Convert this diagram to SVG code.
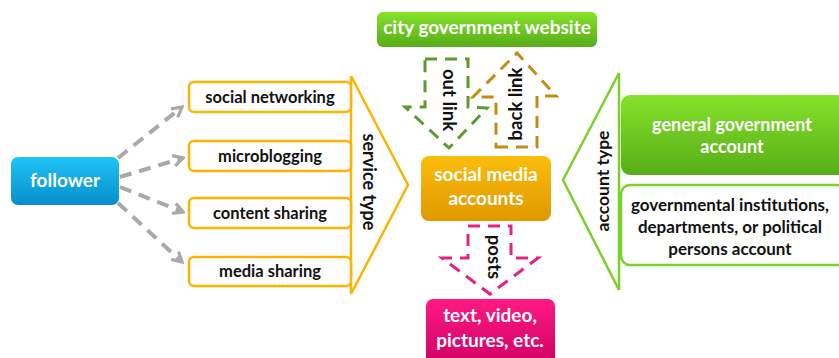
<svg xmlns="http://www.w3.org/2000/svg" width="839" height="358" viewBox="0 0 839 358">
<defs>
<linearGradient id="gBlue" x1="0" y1="0" x2="0" y2="1"><stop offset="0" stop-color="#20c4f6"/><stop offset="1" stop-color="#068ecb"/></linearGradient>
<linearGradient id="gGreen" x1="0" y1="0" x2="0" y2="1"><stop offset="0" stop-color="#86e22b"/><stop offset="1" stop-color="#56ad17"/></linearGradient>
<linearGradient id="gOrange" x1="0" y1="0" x2="0" y2="1"><stop offset="0" stop-color="#fbbe0c"/><stop offset="1" stop-color="#e09800"/></linearGradient>
<linearGradient id="gPink" x1="0" y1="0" x2="0" y2="1"><stop offset="0" stop-color="#ff1a82"/><stop offset="1" stop-color="#d00065"/></linearGradient>
<marker id="ah" viewBox="0 0 12 12" refX="10" refY="6" markerWidth="13" markerHeight="13" markerUnits="userSpaceOnUse" orient="auto">
<path d="M1,1 L10,6 L1,11" fill="none" stroke="#a9a9a9" stroke-width="3"/>
</marker>
</defs>
<style>
text{font-family:Lato,"Open Sans","Liberation Sans",sans-serif;font-weight:bold;text-anchor:middle}
.w{fill:#ffffff}
.k{fill:#111111}
.ob{fill:#ffffff;stroke:#fbb500;stroke-width:2.5}
.gb{fill:#ffffff;stroke:#7ad12a;stroke-width:2.5}
.gray{fill:none;stroke:#a9a9a9;stroke-width:4;stroke-dasharray:12 8}
.dash{stroke-width:3;stroke-dasharray:12 8;fill:none;stroke-linejoin:miter}
</style>

<g id="connectors">
<line class="gray" x1="118" y1="158" x2="182" y2="107" marker-end="url(#ah)"/>
<line class="gray" x1="120" y1="177" x2="183" y2="158" marker-end="url(#ah)"/>
<line class="gray" x1="120" y1="187" x2="183" y2="212" marker-end="url(#ah)"/>
<line class="gray" x1="118" y1="203" x2="182" y2="262" marker-end="url(#ah)"/>
<polyline id="service-chevron" points="351,76 408,185 351,294" fill="none" stroke="#fbb500" stroke-width="2.5"/>
<line x1="351" y1="76" x2="351" y2="294" stroke="#fbb500" stroke-width="2.5"/>
<polyline id="account-chevron" points="619,73 563,180 619,290" fill="none" stroke="#7ad12a" stroke-width="2.5"/>
<line x1="619" y1="73" x2="619" y2="290" stroke="#7ad12a" stroke-width="2.5"/>
<polygon id="outlink-arrow" class="dash" stroke="#5c9a2c" points="425,59 468,59 468,107 487,108 449,148 405,107 425,107"/>
<polygon id="backlink-arrow" class="dash" stroke="#c48c12" points="496,147 537,147 537,96 556,96 517,53 473,97 496,97"/>
<polygon id="posts-arrow" class="dash" stroke="#e2247f" points="468,226 511,226 511,258 538,258 490,294 442,258 468,258"/>
<text class="k" font-size="18.5" transform="translate(443,100) rotate(90)">out link</text>
<text class="k" font-size="18.5" transform="translate(522,104) rotate(-90)">back link</text>
<text class="k" font-size="18.5" transform="translate(488,257) rotate(90)">posts</text>
<text class="k" font-size="18" transform="translate(363,182) rotate(90)">service type</text>
<text class="k" font-size="17.5" transform="translate(609,181) rotate(-90)">account type</text>
</g>

<g id="city-website">
<rect x="377" y="12" width="220" height="35" rx="6" fill="url(#gGreen)"/>
<text class="w" font-size="19" x="487" y="34">city government website</text>
</g>

<g id="follower">
<rect x="11" y="157" width="108" height="48" rx="7" fill="url(#gBlue)"/>
<text class="w" font-size="19" x="65" y="187">follower</text>
</g>

<g id="social-networking">
<rect class="ob" x="189" y="82" width="162" height="30" rx="5"/>
<text class="k" font-size="16.5" x="270" y="103">social networking</text>
</g>
<g id="microblogging">
<rect class="ob" x="189" y="141" width="162" height="30" rx="5"/>
<text class="k" font-size="16.5" x="270" y="162">microblogging</text>
</g>
<g id="content-sharing">
<rect class="ob" x="189" y="198" width="162" height="30" rx="5"/>
<text class="k" font-size="16.5" x="270" y="219">content sharing</text>
</g>
<g id="media-sharing">
<rect class="ob" x="189" y="257" width="162" height="29" rx="5"/>
<text class="k" font-size="16.5" x="270" y="277">media sharing</text>
</g>

<g id="social-media-accounts">
<rect x="421" y="156" width="130" height="65" rx="8" fill="url(#gOrange)"/>
<text class="w" font-size="19" x="486" y="181">social media</text>
<text class="w" font-size="19" x="486" y="205">accounts</text>
</g>

<g id="text-video">
<rect x="426" y="299" width="129" height="65" rx="7" fill="url(#gPink)"/>
<text class="w" font-size="19" x="490" y="322">text, video,</text>
<text class="w" font-size="19" x="490" y="347">pictures, etc.</text>
</g>

<g id="general-government">
<rect x="621" y="95" width="225" height="80" rx="9" fill="url(#gGreen)"/>
<text class="w" font-size="18" x="732" y="131">general government</text>
<text class="w" font-size="18" x="732" y="153">account</text>
</g>

<g id="governmental-institutions">
<rect class="gb" x="621" y="185" width="225" height="80" rx="9"/>
<text class="k" font-size="17" x="730" y="211">governmental institutions,</text>
<text class="k" font-size="17" x="730" y="233">departments, or political</text>
<text class="k" font-size="17" x="730" y="255">persons account</text>
</g>
</svg>
